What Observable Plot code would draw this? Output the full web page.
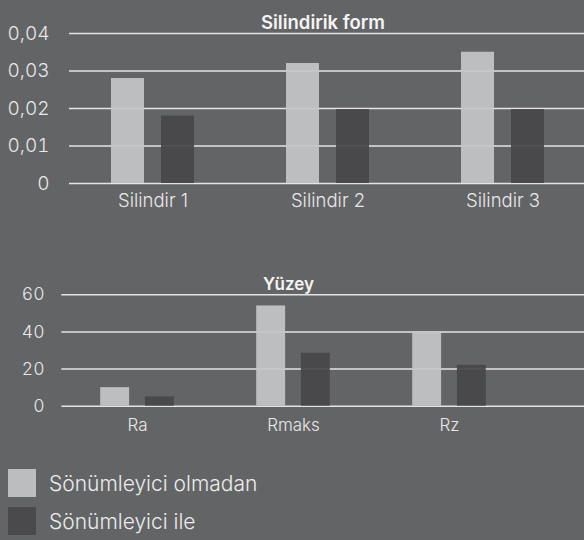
<!DOCTYPE html>
<html><head><meta charset="utf-8">
<script src="https://cdn.jsdelivr.net/npm/d3@7"></script>
<script src="https://cdn.jsdelivr.net/npm/@observablehq/plot@0.6"></script>
<style>
html,body{margin:0;padding:0;background:#636466;}
body{width:584px;height:540px;overflow:hidden;font-family:Inter,"Noto Sans",sans-serif;}
#c1,#c2{height:auto;line-height:0}
#legend{margin-top:24px;margin-left:8px;}
.item{display:flex;align-items:center;height:28px;margin-bottom:10px;font-size:21px;font-weight:300;color:#ececec;}
.sw{width:28px;height:28px;margin-right:13px;flex:none}
</style></head><body>
<div id="c1"></div><div id="c2"></div><div id="legend"></div>
<script>
const seriesNames = ["Sönümleyici olmadan", "Sönümleyici ile"];
const seriesColors = ["#c4c5c7", "#474749"];

const cylTitle = "Silindirik form";
const cylCategories = ["Silindir 1", "Silindir 2", "Silindir 3"];
const cylWithout = [0.028, 0.032, 0.035];
const cylWith = [0.018, 0.0197, 0.0197];
const cylTicks = [0, 0.01, 0.02, 0.03, 0.04];

const surfTitle = "Yüzey";
const surfCategories = ["Ra", "Rmaks", "Rz"];
const surfWithout = [10, 54, 40];
const surfWith = [5, 28.5, 22];
const surfTicks = [0, 20, 40, 60];

const fmtComma = d => d === 0 ? "0" : d.toFixed(2).replace(".", ",");

function chart(o) {
  const rowsA = o.categories.map((c, i) => ({cat: c, value: o.without[i]}));
  const rowsB = o.categories.map((c, i) => ({cat: c, value: o.withv[i]}));
  return Plot.plot({
    width: 584, height: o.height,
    marginTop: o.marginTop, marginBottom: o.marginBottom,
    marginLeft: o.marginLeft, marginRight: 0,
    style: {background: "transparent", color: "#e8e8e8", fontFamily: "Inter, 'Noto Sans', sans-serif"},
    x: {domain: o.categories, range: o.xRange, padding: 0, axis: null, label: null},
    y: {domain: [0, o.ticks[o.ticks.length - 1]], axis: null, label: null},
    marks: [
      Plot.ruleY(o.ticks, {stroke: "#e4e4e4", strokeWidth: 1.4}),
      Plot.barY(rowsA, {x: "cat", y: "value", fill: seriesColors[0], fillOpacity: 0.93, insetLeft: o.inA[0], insetRight: o.inA[1]}),
      Plot.barY(rowsB, {x: "cat", y: "value", fill: seriesColors[1], fillOpacity: 0.93, insetLeft: o.inB[0], insetRight: o.inB[1]}),
      Plot.axisY({ticks: o.ticks, tickSize: 0, tickPadding: o.yPad, tickFormat: o.fmt, fontSize: o.yFont, fontWeight: 300, fill: "#e8e8e8", label: null}),
      Plot.axisX({tickSize: 0, tickPadding: o.xPad, fontSize: o.xFont, fontWeight: 300, fill: "#e8e8e8", label: null}),
      Plot.text([o.title], {x: () => o.categories[1], frameAnchor: "top", dy: o.titleDy, dx: -5, text: d => d, fontSize: o.titleFont, fontWeight: 600, fill: "#f4f4f4"})
    ]
  });
}

document.getElementById("c1").append(chart({
  categories: cylCategories, without: cylWithout, withv: cylWith, ticks: cylTicks, fmt: fmtComma,
  title: cylTitle, height: 220, marginTop: 33, marginBottom: 37, marginLeft: 69,
  xRange: [65, 590], inA: [46, 96], inB: [96, 46],
  yPad: 20, xPad: 10, yFont: 19, xFont: 18.5, titleFont: 18.5, titleDy: -17.7
}));

document.getElementById("c2").append(chart({
  categories: surfCategories, without: surfWithout, withv: surfWith, ticks: surfTicks, fmt: d => String(d),
  title: surfTitle, height: 225, marginTop: 74.3, marginBottom: 39.3, marginLeft: 61.3,
  xRange: [58.1, 528.4], inA: [41.2, 85.9], inB: [85.9, 41.2],
  yPad: 17.3, xPad: 13, yFont: 17.5, xFont: 17, titleFont: 17, titleDy: -16.4
}));

const legend = document.getElementById("legend");
seriesNames.forEach((n, i) => {
  const it = document.createElement("div");
  it.className = "item";
  const sw = document.createElement("div");
  sw.className = "sw";
  sw.style.background = i === 0 ? "#bcbdbf" : "#4a4a4c";
  const t = document.createElement("span");
  t.textContent = n;
  it.append(sw, t);
  legend.append(it);
});
</script>
</body></html>
